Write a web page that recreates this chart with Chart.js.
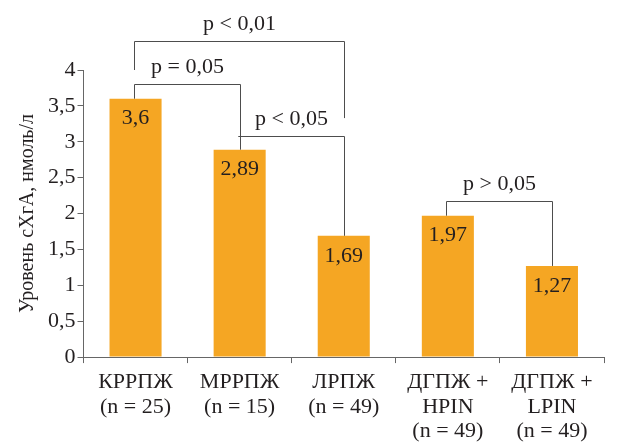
<!DOCTYPE html>
<html>
<head>
<meta charset="utf-8">
<script src="https://cdn.jsdelivr.net/npm/chart.js@4"></script>
<style>
  html, body { margin: 0; padding: 0; background: #fff; }
</style>
</head>
<body>
<canvas id="chart" width="625" height="444"></canvas>
<script>
// data
const categories = [
    ["КРРПЖ", "(n = 25)"],
    ["МРРПЖ", "(n = 15)"],
    ["ЛРПЖ", "(n = 49)"],
    ["ДГПЖ +", "HPIN", "(n = 49)"],
    ["ДГПЖ +", "LPIN", "(n = 49)"],
];
const values = [3.6, 2.89, 1.69, 1.97, 1.27];
const yTitle = "Уровень сХгА, нмоль/л";

// significance brackets: from/to = category index, levels in data units
const brackets = [
    { from: 0, to: 2, top: 4.4, endFrom: 4.0, endTo: 3.33, text: "p < 0,01" },
    { from: 0, to: 1, top: 3.81, endFrom: 3.6, endTo: 2.89, text: "p = 0,05" },
    { from: 1, to: 2, top: 3.08, endFrom: 3.08, endTo: 1.69, text: "p < 0,05" },
    { from: 3, to: 4, top: 2.18, endFrom: 1.97, endTo: 1.27, text: "p > 0,05" },
];

const FONT = "'Liberation Serif', 'DejaVu Serif', serif";
const comma = (v) => String(v).replace(".", ",");

const extras = {
    id: "extras",
    afterDatasetsDraw(chart) {
        const ctx = chart.ctx;
        const x = chart.scales.x;
        const y = chart.scales.y;
        const meta = chart.getDatasetMeta(0);
        ctx.save();
        ctx.font = "22px " + FONT;
        ctx.fillStyle = "#231f20";
        ctx.textAlign = "center";
        ctx.textBaseline = "middle";
        meta.data.forEach((bar, i) => {
            ctx.fillText(comma(values[i]), bar.x, bar.y + 20);
        });

        ctx.strokeStyle = "#4d4d4d";
        ctx.lineWidth = 1;
        brackets.forEach((b) => {
            const x1 = Math.round(x.getPixelForValue(b.from)) - 1.5;
            const x2 = Math.round(x.getPixelForValue(b.to)) + 0.5;
            const yt = Math.round(y.getPixelForValue(b.top)) + 0.5;
            ctx.beginPath();
            ctx.moveTo(x1, y.getPixelForValue(b.endFrom));
            ctx.lineTo(x1, yt);
            ctx.lineTo(x2, yt);
            ctx.lineTo(x2, y.getPixelForValue(b.endTo));
            ctx.stroke();
            ctx.textBaseline = "alphabetic";
            ctx.fillText(b.text, (x1 + x2) / 2, yt - 12);
        });
        ctx.restore();
    },
};

new Chart(document.getElementById("chart"), {
    type: "bar",
    data: {
        labels: categories,
        datasets: [
            {
                data: values,
                backgroundColor: "#f5a623",
                barPercentage: 0.5,
                categoryPercentage: 1,
            },
        ],
    },
    options: {
        responsive: false,
        animation: false,
        layout: { padding: { top: 70, right: 21, left: 16, bottom: -7 } },
        plugins: { legend: { display: false }, tooltip: { enabled: false } },
        scales: {
            x: {
                grid: {
                    offset: true,
                    drawOnChartArea: false,
                    drawTicks: true,
                    tickLength: 6,
                    color: "#666",
                },
                border: { color: "#666" },
                ticks: {
                    color: "#231f20",
                    font: { family: FONT, size: 22, lineHeight: 1.12 },
                    padding: 7,
                    maxRotation: 0,
                    autoSkip: false,
                },
            },
            y: {
                min: 0,
                max: 4,
                grid: {
                    drawOnChartArea: false,
                    drawTicks: true,
                    tickLength: 6,
                    color: "#666",
                },
                border: { color: "#666" },
                ticks: {
                    stepSize: 0.5,
                    color: "#231f20",
                    font: { family: FONT, size: 22 },
                    padding: 2,
                    callback: (v) => comma(v),
                },
                title: {
                    display: true,
                    text: yTitle,
                    color: "#231f20",
                    font: { family: FONT, size: 20 },
                    padding: { top: 0, bottom: 6 },
                },
            },
        },
    },
    plugins: [extras],
});
</script>
</body>
</html>
